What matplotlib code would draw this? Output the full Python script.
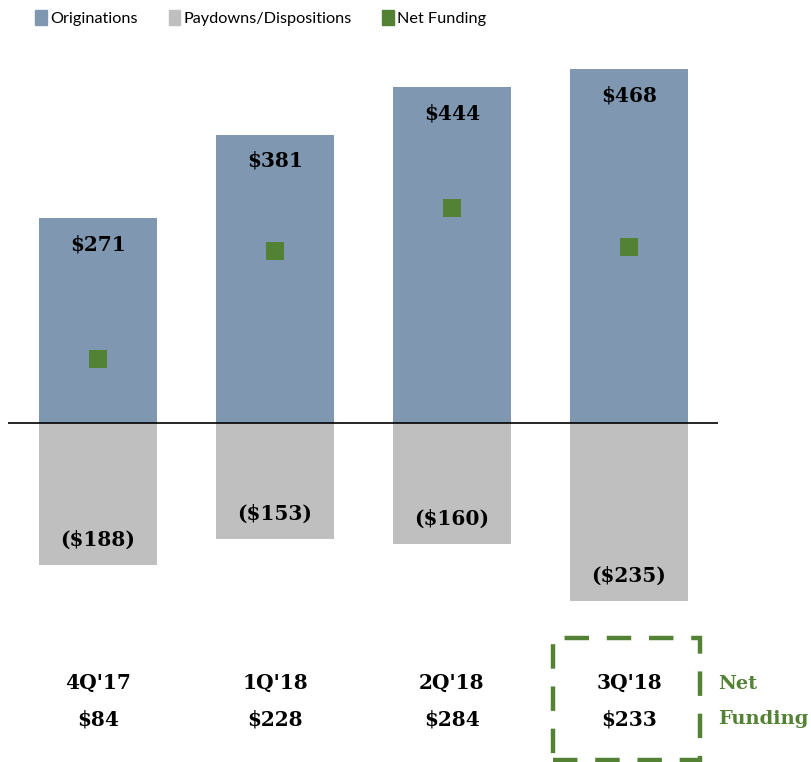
import matplotlib
matplotlib.use("Agg")
import matplotlib.pyplot as plt
from matplotlib.patches import Patch, Rectangle
import matplotlib.transforms as mtransforms

# data ($ millions)
quarters = ["4Q'17", "1Q'18", "2Q'18", "3Q'18"]
originations = [271, 381, 444, 468]
paydowns = [-188, -153, -160, -235]
net_funding = [84, 228, 284, 233]

blue = '#8097B1'
gray = '#BFBFBF'
green = '#548235'

W, H = 812, 762
fig = plt.figure(figsize=(W / 100, H / 100), dpi=100)

# axes placed in pixel terms: zero line at y=423, 0.756 px per $
px_per = 0.756
ax_top, ax_bot = 40, 620
ax_left, ax_right = 8, 718
ax = fig.add_axes([ax_left / W, 1 - ax_bot / H, (ax_right - ax_left) / W, (ax_bot - ax_top) / H])
ax.set_ylim(-(ax_bot - 423) / px_per, (423 - ax_top) / px_per)
ax.set_xlim((8 - 98) / 177, (718 - 98) / 177)
ax.axis('off')

x = list(range(len(quarters)))
ax.bar(x, originations, width=0.667, color=blue, zorder=2)
ax.bar(x, paydowns, width=0.667, color=gray, zorder=2)
ax.scatter(x, net_funding, marker='s', s=150, color=green, zorder=3, linewidths=0)
ax.axhline(0, color='black', lw=1.2, zorder=4)

lbl = dict(family='DejaVu Serif', fontweight='bold', fontsize=14.5, ha='center', va='center')
for xi, v in zip(x, originations):
    ax.annotate(f'${v}', (xi, v), xytext=(0, -26), textcoords='offset pixels', **lbl)
for xi, v in zip(x, paydowns):
    ax.annotate(f'(${-v})', (xi, v), xytext=(0, 25), textcoords='offset pixels', **lbl)

# category + net funding rows under the chart
trans = mtransforms.blended_transform_factory(ax.transData, fig.transFigure)
for xi, q, n in zip(x, quarters, net_funding):
    ax.text(xi, 1 - 683 / H, q, transform=trans, clip_on=False, **lbl)
    ax.text(xi, 1 - 720 / H, f'${n}', transform=trans, clip_on=False, **lbl)

# dashed highlight box around latest quarter
box = Rectangle((553 / W, 1 - 760 / H), 147 / W, 122 / H, transform=fig.transFigure,
                fill=False, edgecolor=green, lw=3.2, linestyle=(0, (5.5, 4)))
fig.add_artist(box)
fig.text(718 / W, 1 - 684 / H, 'Net', color=green, family='DejaVu Serif',
         fontweight='bold', fontsize=14, ha='left', va='center')
fig.text(718 / W, 1 - 719 / H, 'Funding', color=green, family='DejaVu Serif',
         fontweight='bold', fontsize=14, ha='left', va='center')

handles = [Patch(color=blue, label='Originations'),
           Patch(color=gray, label='Paydowns/Dispositions'),
           Patch(color=green, label='Net Funding')]
fig.legend(handles=handles, loc='upper left', bbox_to_anchor=(29 / W, 1 - 4 / H), ncol=3,
           frameon=False, prop={'family': 'Lato', 'size': 11.7}, handlelength=0.7,
           handleheight=1.0, handletextpad=0.2, columnspacing=1.9, borderaxespad=0)

fig.savefig('out.png', dpi=100)
